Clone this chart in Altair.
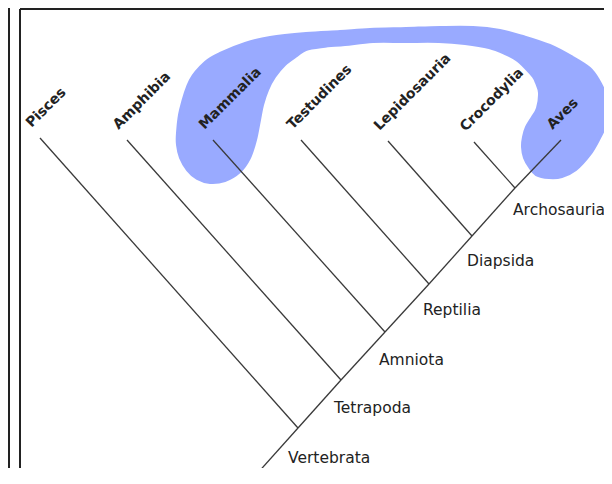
import altair as alt
import pandas as pd

# ---- data (page-pixel units) ----
leaf_names = ["Pisces", "Amphibia", "Mammalia", "Testudines", "Lepidosauria", "Crocodylia", "Aves"]
leaf_x = [40, 127, 213, 301, 388, 474, 561]
leaf_y = [138, 140, 140, 140, 141, 142, 140]

node_names = ["Vertebrata", "Tetrapoda", "Amniota", "Reptilia", "Diapsida", "Archosauria"]
node_x = [298, 341, 385, 429, 472, 515]
node_y = [428, 380, 332, 284, 236, 188]
# where each clade name sits (left end of its baseline)
label_x = [288, 334, 379, 423, 467, 513]
label_y = [463, 413, 365, 315, 266, 215]

root_x = [255]
root_y = [476]

# outline of the blue (paraphyletic) region
blob_x = [177, 180, 190, 205, 220, 245, 270, 306, 340, 370, 406, 440, 473, 500, 523, 550,
          573, 590, 599, 606, 608, 606, 599, 590, 576, 562, 549, 536, 529, 524, 522, 523,
          526, 532, 537, 539, 536, 533, 525, 516, 505, 489, 465, 439, 405, 373, 345, 323,
          306, 297, 285, 275, 268, 263, 260, 256, 250, 240, 225, 210, 197, 187, 180, 177]
blob_y = [133, 110, 80, 62, 53, 43, 37, 33, 31, 29, 28, 27, 27, 30, 36, 45,
          57, 68, 80, 95, 110, 125, 140, 155, 170, 177, 178, 175, 167, 158, 147, 137,
          127, 117, 108, 93, 83, 77, 68, 60, 54, 48, 44, 42, 42, 42, 45, 47,
          50, 56, 65, 77, 90, 105, 120, 140, 158, 172, 181, 183, 179, 170, 158, 145]

# ---- tables built from the arrays ----
W, H = 596, 460
X0, Y0 = 8, 8

seg_rows = []
spine_x = root_x + node_x + [leaf_x[-1]]
spine_y = root_y + node_y + [leaf_y[-1]]
for i in range(len(spine_x) - 1):
    seg_rows.append({"x": spine_x[i], "y": spine_y[i], "x2": spine_x[i + 1], "y2": spine_y[i + 1]})
for i in range(len(node_x)):
    seg_rows.append({"x": leaf_x[i], "y": leaf_y[i], "x2": node_x[i], "y2": node_y[i]})
segs = pd.DataFrame(seg_rows)

leaves = pd.DataFrame({"name": leaf_names, "x": leaf_x, "y": leaf_y})
nodes = pd.DataFrame({"name": node_names, "x": label_x, "y": label_y})
blob = pd.DataFrame({"x": blob_x, "y": blob_y, "i": list(range(len(blob_x)))})

xs = alt.Scale(domain=[X0, X0 + W], nice=False, zero=False)
ys = alt.Scale(domain=[Y0 + H, Y0], nice=False, zero=False)

X = lambda f="x": alt.X(f"{f}:Q", scale=xs, axis=None)
Y = lambda f="y": alt.Y(f"{f}:Q", scale=ys, axis=None)

blob_layer = alt.Chart(blob).mark_line(
    fill="#99aaff", stroke="#99aaff", strokeWidth=2, interpolate="cardinal-closed"
).encode(x=X(), y=Y(), order="i:Q")

tree_layer = alt.Chart(segs).mark_rule(color="#3a3a3a", strokeWidth=1.3).encode(
    x=X(), y=Y(), x2="x2:Q", y2="y2:Q"
)

leaf_text = alt.Chart(leaves).mark_text(
    angle=315, align="left", baseline="alphabetic", dx=1, dy=-13,
    font="DejaVu Sans", fontSize=14, fontWeight="bold", color="#222222"
).encode(x=X(), y=Y(), text="name:N")

node_text = alt.Chart(nodes).mark_text(
    align="left", baseline="alphabetic",
    font="DejaVu Sans", fontSize=15.5, color="#222222"
).encode(x=X(), y=Y(), text="name:N")

frame_outer = alt.Chart(pd.DataFrame({"a": [0]})).mark_rule(color="#222222", strokeWidth=2).encode(
    x=alt.value(1), y=alt.value(0), y2=alt.value(H)
)
frame_left = alt.Chart(pd.DataFrame({"a": [0]})).mark_rule(color="#222222", strokeWidth=2).encode(
    x=alt.value(12), y=alt.value(1), y2=alt.value(H)
)
frame_top = alt.Chart(pd.DataFrame({"a": [0]})).mark_rule(color="#222222", strokeWidth=2).encode(
    x=alt.value(12), x2=alt.value(W), y=alt.value(1)
)

chart = alt.layer(
    blob_layer, tree_layer, leaf_text, node_text, frame_outer, frame_left, frame_top
).properties(
    width=W, height=H, padding=0, background="white",
    autosize=alt.AutoSizeParams(type="none")
).configure_view(stroke=None)

chart.save("out.html", embed_options={"renderer": "svg", "actions": False})
